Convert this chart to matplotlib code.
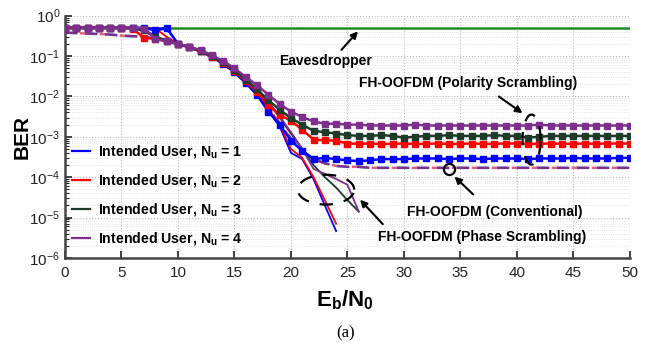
import numpy as np
import matplotlib
matplotlib.use("Agg")
import matplotlib.pyplot as plt

plt.rcParams['font.family'] = ['Liberation Sans', 'DejaVu Sans']
plt.rcParams['mathtext.fontset'] = 'custom'
plt.rcParams['mathtext.rm'] = 'Liberation Sans'
plt.rcParams['mathtext.it'] = 'Liberation Sans:italic'
plt.rcParams['mathtext.bf'] = 'Liberation Sans:bold'

# ---------------- data ----------------
ebn0 = list(range(0, 51))

# Polarity scrambling (solid with square markers)
pol_nu1 = [0.5, 0.5, 0.5, 0.5, 0.5, 0.5, 0.5, 0.5, 0.45, 0.5,
           0.2, 0.165, 0.13, 0.095, 0.065, 0.04, 0.022, 0.011, 0.0042, 0.002,
           0.0008, 0.00045, 0.00028, 0.0003, 0.00028, 0.00026, 0.00025, 0.00026, 0.00028, 0.00028,
           0.00028, 0.00029, 0.00029, 0.00029, 0.00028, 0.00029, 0.00029, 0.00028, 0.00029, 0.00029,
           0.00029, 0.00028, 0.00029, 0.00029, 0.00029, 0.0003, 0.00029, 0.00029, 0.00029, 0.0003, 0.0003]
pol_nu2 = [0.5, 0.5, 0.5, 0.5, 0.5, 0.5, 0.48, 0.28, 0.27, 0.23,
           0.2, 0.165, 0.13, 0.097, 0.068, 0.043, 0.024, 0.013, 0.006, 0.0035,
           0.0025, 0.0015, 0.00085, 0.00082, 0.0008, 0.00068, 0.00067, 0.00068, 0.00066, 0.00067,
           0.00068, 0.00066, 0.00067, 0.00068, 0.00066, 0.00067, 0.00068, 0.00067, 0.00067, 0.00068,
           0.00068, 0.00066, 0.00067, 0.00068, 0.00067, 0.00067, 0.00068, 0.00067, 0.00068, 0.00068, 0.00068]
pol_nu3 = [0.5, 0.5, 0.5, 0.5, 0.5, 0.5, 0.5, 0.45, 0.3, 0.24,
           0.2, 0.17, 0.135, 0.1, 0.07, 0.045, 0.026, 0.015, 0.008, 0.0047,
           0.0029, 0.002, 0.0014, 0.0013, 0.0012, 0.0011, 0.00105, 0.00105, 0.0011, 0.00105,
           0.00095, 0.001, 0.00105, 0.00105, 0.0011, 0.00105, 0.00105, 0.00105, 0.0011, 0.00105,
           0.00105, 0.00095, 0.001, 0.00105, 0.00105, 0.00105, 0.00105, 0.00105, 0.00105, 0.00105, 0.00105]
pol_nu4 = [0.5, 0.5, 0.5, 0.5, 0.5, 0.5, 0.5, 0.48, 0.27, 0.23,
           0.2, 0.17, 0.14, 0.105, 0.075, 0.05, 0.03, 0.019, 0.011, 0.0065,
           0.0042, 0.0031, 0.0024, 0.0021, 0.0021, 0.002, 0.002, 0.0019, 0.0019, 0.0019,
           0.0019, 0.002, 0.0019, 0.0019, 0.0019, 0.0019, 0.0019, 0.0019, 0.0019, 0.0019,
           0.0019, 0.0019, 0.002, 0.0019, 0.0019, 0.0019, 0.0019, 0.0019, 0.0019, 0.0019, 0.0019]

# Conventional (dashed)
conv = [0.38, 0.37, 0.36, 0.35, 0.34, 0.32, 0.31, 0.3, 0.27, 0.23,
        0.2, 0.165, 0.13, 0.095, 0.065, 0.04, 0.022, 0.011, 0.005, 0.0022,
        0.0009, 0.00045, 0.00028, 0.00022, 0.00019, 0.00018, 0.00018, 0.00017, 0.00017, 0.00017,
        0.00017, 0.00017, 0.00017, 0.00017, 0.00017, 0.00017, 0.00017, 0.00017, 0.00017, 0.00017,
        0.00017, 0.00017, 0.00017, 0.00017, 0.00017, 0.00017, 0.00017, 0.00017, 0.00017, 0.00017, 0.00017]

# Phase scrambling (thin solid, no markers)
ph_x1 = list(range(0, 25))
ph_nu1 = [0.5, 0.5, 0.5, 0.5, 0.5, 0.5, 0.5, 0.5, 0.42, 0.48,
          0.2, 0.165, 0.13, 0.095, 0.065, 0.04, 0.022, 0.011, 0.0045, 0.0018,
          0.0004, 0.00028, 0.00009, 0.00002, 0.0000046]
ph_nu2 = [0.5, 0.5, 0.5, 0.5, 0.5, 0.5, 0.5, 0.5, 0.48, 0.3,
          0.2, 0.165, 0.13, 0.097, 0.068, 0.043, 0.024, 0.012, 0.005, 0.002,
          0.0005, 0.0003, 0.0001, 0.000027, 0.000007]
ph_x3 = list(range(0, 27))
ph_nu3 = [0.5, 0.5, 0.5, 0.5, 0.5, 0.5, 0.5, 0.4, 0.3, 0.24,
          0.2, 0.17, 0.135, 0.1, 0.07, 0.045, 0.025, 0.014, 0.007, 0.003,
          0.0012, 0.0005, 0.0002, 0.0001, 0.000055, 0.000027, 0.000014]
ph_nu4 = [0.5, 0.5, 0.5, 0.5, 0.5, 0.5, 0.5, 0.45, 0.28, 0.24,
          0.2, 0.17, 0.138, 0.102, 0.072, 0.047, 0.027, 0.015, 0.0075, 0.0032,
          0.0013, 0.0005, 0.00016, 0.00012, 0.00009, 0.000065, 0.000014]

eaves = [0.5] * 51

colors = ['#0000FF', '#FF0000', '#1E3B2A', '#7E2F8E']
labels = [r'Intended User, N$_{\mathbf{u}}$ = 1', r'Intended User, N$_{\mathbf{u}}$ = 2',
          r'Intended User, N$_{\mathbf{u}}$ = 3', r'Intended User, N$_{\mathbf{u}}$ = 4']

# ---------------- figure ----------------
fig = plt.figure(figsize=(6.46, 3.48), dpi=100)
ax = fig.add_axes([0.1006, 0.259, 0.8744, 0.696])

ax.plot(ebn0, eaves, color='#1E8C1E', lw=1.8, zorder=3)

# conventional dashed lines
ax.plot(ebn0, conv, color='#4DBEEE', lw=1.8, ls=(0, (4, 4)), zorder=3)
ax.plot(ebn0, conv, color='#E0607E', lw=1.8, ls=(2, (2, 6)), zorder=3)
ax.plot(ebn0, conv, color=colors[3], lw=1.8, ls=(0, (5, 3)), zorder=3)

phs = [(ph_x1, ph_nu1), (ph_x1, ph_nu2), (ph_x3, ph_nu3), (ph_x3, ph_nu4)]
pols = [pol_nu1, pol_nu2, pol_nu3, pol_nu4]
for (px, py), c in zip(phs, colors):
    ax.plot(px, py, color=c, lw=1.3, zorder=4)
for py, c, lab in zip(pols, colors, labels):
    ax.plot(ebn0, py, color=c, lw=1.8, marker='s', ms=4, zorder=5)
    ax.plot([], [], color=c, lw=1.6, label=lab)

ax.set_yscale('log')
ax.set_xlim(0, 50)
ax.set_ylim(1e-6, 1)
ax.set_xticks(range(0, 51, 5))
ax.set_yticks([1e-6, 1e-5, 1e-4, 1e-3, 1e-2, 1e-1, 1])

for s in ['top', 'right']:
    ax.spines[s].set_visible(False)
for s in ['left', 'bottom']:
    ax.spines[s].set_color('#444444')
    ax.spines[s].set_linewidth(1.8)
ax.tick_params(axis='both', which='both', direction='in', colors='#222222', labelsize=11)
ax.tick_params(axis='both', which='major', length=5, width=1.2)
ax.tick_params(axis='y', which='minor', length=3, width=0.8)
ax.tick_params(axis='x', pad=6)
ax.grid(True, which='major', ls=':', color='#bbbbbb', lw=0.8)
ax.grid(True, which='minor', axis='y', ls=':', color='#dddddd', lw=0.6)

leg = ax.legend(loc='upper left', bbox_to_anchor=(-0.005, 0.515), frameon=False,
                prop={'weight': 'bold', 'size': 10.2}, handlelength=1.3,
                labelspacing=0.85, handletextpad=0.55, borderaxespad=0.3)

# annotations
tk = dict(fontsize=10, fontweight='bold', ha='center', va='center', zorder=6)
ax.text(23.1, 0.075, 'Eavesdropper', **tk)
ax.text(35.7, 0.022, 'FH-OOFDM (Polarity Scrambling)', **tk)
ax.text(38.05, 1.4e-5, 'FH-OOFDM (Conventional)', **tk)
ax.text(36.9, 3.2e-6, 'FH-OOFDM (Phase Scrambling)', **tk)

ap = dict(arrowstyle='-|>', color='black', lw=1.5, mutation_scale=10)
ax.annotate('', xy=(26.1, 0.46), xytext=(24.3, 0.126), arrowprops=ap)
ax.annotate('', xy=(40.7, 0.0035), xytext=(38.2, 0.0109), arrowprops=ap)
ax.annotate('', xy=(34.3, 1.15e-4), xytext=(36.3, 3.36e-5), arrowprops=ap)
ax.annotate('', xy=(25.95, 3.1e-5), xytext=(28.3, 6.1e-6), arrowprops=ap)

ax.plot([34.0], [1.6e-4], marker='o', ms=8, mfc='none', mec='black', mew=1.6, zorder=7)

t = np.linspace(0, 2 * np.pi, 200)
ax.plot(41.3 + 0.8 * np.cos(t), 10 ** (-3.07 + 0.62 * np.sin(t)), color='black',
        lw=1.6, ls=(0, (6, 5)), zorder=7)
ax.plot(23.1 + 2.5 * np.cos(t), 10 ** (-4.31 + 0.37 * np.sin(t)), color='black',
        lw=1.6, ls=(0, (6, 5)), zorder=7)

fig.text(22 / 646, 1 - 137 / 348, 'BER', rotation=90, fontsize=15, fontweight='bold',
         ha='center', va='center')
fig.text(345 / 646, 1 - 300 / 348, r'$\mathbf{E}_{\mathbf{b}}\mathbf{/N}_{\mathbf{0}}$',
         fontsize=16, ha='center', va='center')
fig.text(346 / 646, 1 - 333 / 348, '(a)', fontsize=12, family=['Liberation Serif', 'DejaVu Serif'],
         ha='center', va='center')

fig.savefig('out.png', dpi=100)
